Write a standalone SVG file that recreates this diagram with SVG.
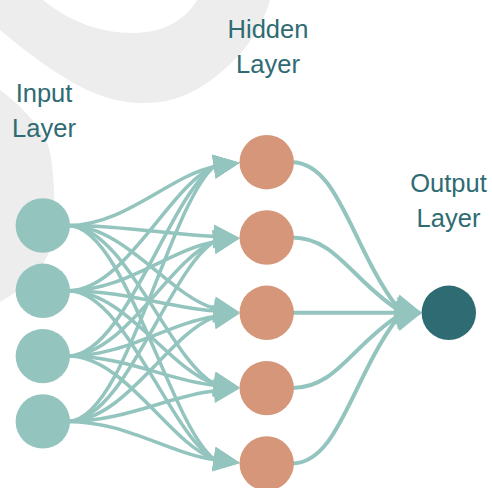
<svg xmlns="http://www.w3.org/2000/svg" width="492" height="488" viewBox="0 0 492 488">
  <style>
    .bg { fill: #EDEDED; }
    .lbl { font-family: "Liberation Sans", Arial, sans-serif; font-size: 25.5px; fill: #2E6B73; text-anchor: middle; }
    .c1 { fill: none; stroke: #93C4BE; stroke-width: 3.5; marker-end: url(#ah); }
    .c2 { fill: none; stroke: #93C4BE; stroke-width: 4; marker-end: url(#ah); }
    .in { fill: #93C4BE; }
    .hid { fill: #D5967A; }
    .out { fill: #2E6B73; }
  </style>
  <defs>
    <marker id="ah" markerUnits="userSpaceOnUse" viewBox="0 0 26 24" markerWidth="26" markerHeight="24" refX="2" refY="12" orient="auto" overflow="visible">
      <path d="M0,0 L26,12 L0,24 Z" fill="#93C4BE"/>
    </marker>
  </defs>

  <g id="background">
    <path class="bg" d="M0,0 L43,0 C70,22 100,33 133,33 C165,33 187,18 197,0 L270,0 C262,30 240,60 207,83 C185,98 165,103 143,103 C100,103 60,80 0,30 Z"/>
    <path class="bg" d="M0,90 C20,105 40,125 48,145 C54,165 55,200 54,230 C52,262 30,285 0,302 Z"/>
  </g>

  <g id="labels">
    <text class="lbl" x="44" y="102.3">Input</text>
    <text class="lbl" x="44" y="137.3">Layer</text>
    <text class="lbl" x="268" y="37.7">Hidden</text>
    <text class="lbl" x="268" y="72.7">Layer</text>
    <text class="lbl" x="448.5" y="191.5">Output</text>
    <text class="lbl" x="448.5" y="226.5">Layer</text>
  </g>

  <g id="connectors">
    <!-- input 1 -->
    <path class="c1" d="M68,225.5 C125,225.5 168.9,176.2 213.9,166.7 L215.9,166.4"/>
    <path class="c1" d="M68,225.5 C125,225.5 168.5,234.6 213.5,236.4 L215.5,236.5"/>
    <path class="c1" d="M68,225.5 C125,225.5 168.9,295.2 213.9,308.3 L215.9,308.6"/>
    <path class="c1" d="M68,225.5 C125,225.5 168.9,359.2 213.9,383.6 L215.9,383.9"/>
    <path class="c1" d="M68,225.5 C125,225.5 168.9,423.2 213.9,458.9 L215.9,459.2"/>
    <!-- input 2 -->
    <path class="c1" d="M68,290.8 C125,290.8 168.9,186.0 213.9,166.7 L215.9,166.4"/>
    <path class="c1" d="M68,290.8 C125,290.8 168.9,250.0 213.9,242.0 L215.9,241.7"/>
    <path class="c1" d="M68,290.8 C125,290.8 168.6,307.5 213.6,310.8 L215.6,311.0"/>
    <path class="c1" d="M68,290.8 C125,290.8 168.9,369.0 213.9,383.6 L215.9,383.9"/>
    <path class="c1" d="M68,290.8 C125,290.8 168.9,433.0 213.9,458.9 L215.9,459.2"/>
    <!-- input 3 -->
    <path class="c1" d="M68,356.1 C125,356.1 168.9,195.8 213.9,166.7 L215.9,166.4"/>
    <path class="c1" d="M68,356.1 C125,356.1 168.9,259.8 213.9,242.0 L215.9,241.7"/>
    <path class="c1" d="M68,356.1 C125,356.1 168.8,323.2 213.8,316.7 L215.8,316.4"/>
    <path class="c1" d="M68,356.1 C125,356.1 168.7,380.4 213.7,385.2 L215.7,385.4"/>
    <path class="c1" d="M68,356.1 C125,356.1 168.9,442.8 213.9,458.9 L215.9,459.2"/>
    <!-- input 4 -->
    <path class="c1" d="M68,421.4 C125,421.4 168.9,205.6 213.9,166.7 L215.9,166.4"/>
    <path class="c1" d="M68,421.4 C125,421.4 168.9,269.6 213.9,242.0 L215.9,241.7"/>
    <path class="c1" d="M68,421.4 C125,421.4 168.9,333.6 213.9,317.3 L215.9,317.0"/>
    <path class="c1" d="M68,421.4 C125,421.4 168.7,396.1 213.7,391.1 L215.7,390.9"/>
    <path class="c1" d="M68,421.4 C125,421.4 168.8,453.3 213.8,459.6 L215.8,459.9"/>
    <!-- hidden to output -->
    <path class="c2" d="M292,162.2 C338,162.2 351.4,245.8 396.4,306.1 L398.3,306.6"/>
    <path class="c2" d="M292,237.5 C335,237.5 350.9,278.2 395.9,308.3 L397.9,308.6"/>
    <path class="c2" d="M292,312.8 L395.5,312.8 L397.5,312.8"/>
    <path class="c2" d="M292,388.1 C335,388.1 350.9,347.4 395.9,317.3 L397.9,317.0"/>
    <path class="c2" d="M292,463.4 C338,463.4 351.4,379.8 396.4,319.5 L398.3,319.0"/>
  </g>

  <g id="input-1"><circle class="in" cx="42.8" cy="225.5" r="27.2"/></g>
  <g id="input-2"><circle class="in" cx="42.8" cy="290.8" r="27.2"/></g>
  <g id="input-3"><circle class="in" cx="42.8" cy="356.1" r="27.2"/></g>
  <g id="input-4"><circle class="in" cx="42.8" cy="421.4" r="27.2"/></g>

  <g id="hidden-1"><circle class="hid" cx="266.7" cy="162.2" r="27.2"/></g>
  <g id="hidden-2"><circle class="hid" cx="266.7" cy="237.5" r="27.2"/></g>
  <g id="hidden-3"><circle class="hid" cx="266.7" cy="312.8" r="27.2"/></g>
  <g id="hidden-4"><circle class="hid" cx="266.7" cy="388.1" r="27.2"/></g>
  <g id="hidden-5"><circle class="hid" cx="266.7" cy="463.4" r="27.2"/></g>

  <g id="output-1"><circle class="out" cx="448.8" cy="312.8" r="27.2"/></g>
</svg>
